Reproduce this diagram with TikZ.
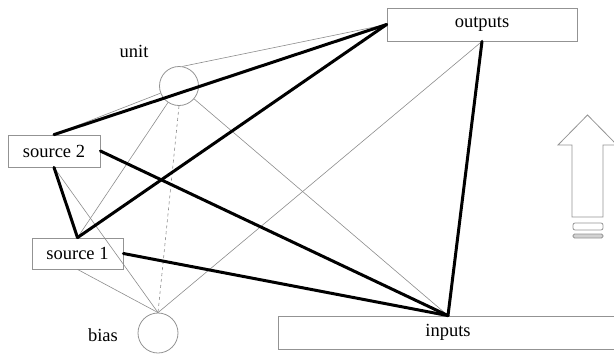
\documentclass[tikz,border=0pt]{standalone}
\usepackage{fontspec}
\setmainfont{Liberation Serif}
\begin{document}
\begin{tikzpicture}[x=1pt,y=-1pt,
  labelfont/.style={font=\fontsize{18.5}{20}\selectfont},
  box/.style={draw=gray!85, line width=0.8pt, rectangle, inner sep=0pt, fill=white, labelfont},
  ring/.style={draw=gray!85, line width=0.8pt, circle, inner sep=0pt, minimum size=39pt},
  weak/.style={draw=gray!90, line width=0.6pt},
  strong/.style={draw=black, line width=3pt, line cap=round, line join=round},
  outline/.style={draw=gray!85, line width=0.8pt, line join=miter}]

\useasboundingbox (0,0) rectangle (614,354);

% boxes and circles
\node[box, minimum width=190pt, minimum height=33pt] (out) at (482,24.5) {outputs};
\node[box, minimum width=92pt, minimum height=32pt] (s2) at (54,151) {source 2};
\node[box, minimum width=91pt, minimum height=31pt] (s1) at (77.5,253.5) {source 1};
\node[box, minimum width=340pt, minimum height=33pt] (in) at (448,332.5) {inputs};
\node[ring] (unit) at (179,86) {};
\node[ring, minimum size=40pt] (bias) at (158,333) {};
\node[labelfont] (unitlbl) at (134,51) {unit};
\node[labelfont] (biaslbl) at (103,335) {bias};

% thin connections
\draw[weak] (unit.80) -- (out.west);
\draw[weak] (s2.north) -- (unit);
\draw[weak] (unit) -- (s1.north);
\draw[weak] (unit) -- (in.north);
\draw[weak, dashed] (unit.south) -- (bias.north);
\draw[weak] (out.south) -- (bias.north);
\draw[weak] (s2.south) -- (bias.north);
\draw[weak] (s1.south) -- (bias.north);

% thick connections
\draw[strong] (s2.north) -- (out.west);
\draw[strong] (s1.north) -- (out.west);
\draw[strong] (s2.south) -- (s1.north);
\draw[strong] (s2.east) -- (in.north);
\draw[strong] (s1.east) -- (in.north);
\draw[strong] (out.south) -- (in.north);

% upward block arrow with two bars below
\draw[outline] (572,217) -- (572,145) -- (558,145) -- (587.5,115) -- (617,145)
  -- (603,145) -- (603,217) -- cycle;
\draw[outline, rounded corners=2pt] (573,223) rectangle (603,230);
\draw[outline, fill=gray!35, rounded corners=1.5pt] (573,234) rectangle (603,238);
\end{tikzpicture}
\end{document}
